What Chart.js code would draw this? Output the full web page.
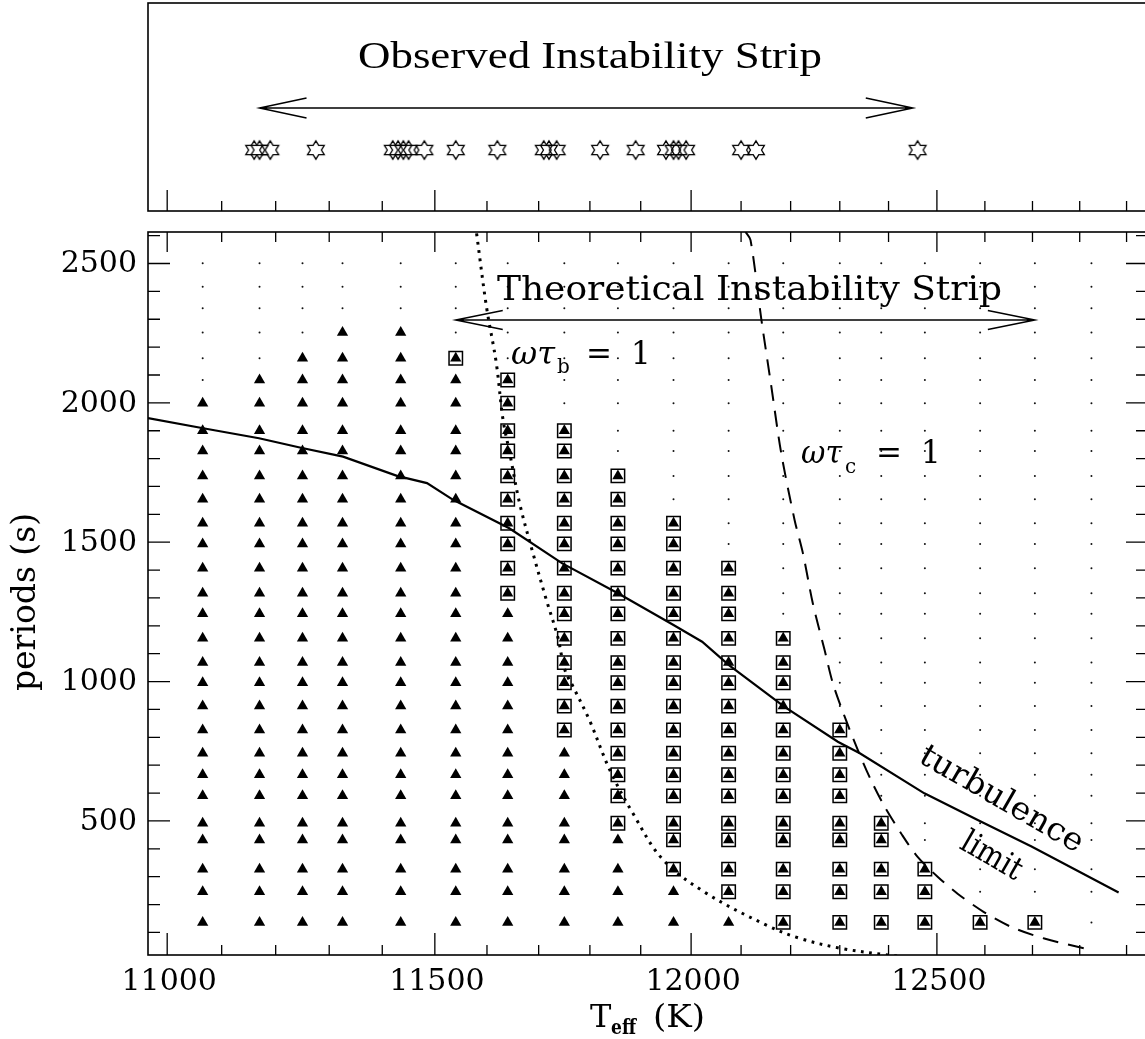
<!DOCTYPE html>
<html>
<head>
<meta charset="utf-8">
<title>Instability strip</title>
<script src="https://cdn.jsdelivr.net/npm/chart.js@4.4.1/dist/chart.umd.min.js"></script>
<style>
  html, body { margin: 0; padding: 0; background: #fff; overflow: hidden; }
  #wrap { position: relative; width: 1145px; height: 1039px; overflow: hidden; background: #fff; }
  canvas { position: absolute; left: 0; }
  #top { top: 0; }
  #main { top: 220px; }
</style>
</head>
<body>
<div id="wrap">
  <canvas id="top" width="1150" height="220"></canvas>
  <canvas id="main" width="1150" height="819"></canvas>
</div>
<script>
// ---- data ----
// model sequence: effective temperatures (K) and the periods (s) checked in each model
var modelTeff = [11065, 11170, 11250, 11325, 11435, 11540, 11640, 11750, 11855, 11965, 12075, 12185, 12300, 12385, 12475, 12590, 12705, 12825];
var modelPeriods = [136, 246, 327, 432, 492, 590, 666, 743, 826, 912, 996, 1068, 1155, 1243, 1317, 1407, 1494, 1568, 1654, 1738, 1827, 1900, 1999, 2082, 2160, 2252, 2339, 2417, 2501];
// unstable modes per model, counted from the shortest period (filled triangles)
var unstableCount = [23, 24, 25, 26, 26, 25, 24, 22, 20, 18, 16, 13, 9, 5, 3, 1, 1, 0];
// boxed modes per model: first and last period index (-1 = none)
var boxedFrom = [-1, -1, -1, -1, -1, 24, 14, 8, 4, 2, 1, 0, 0, 0, 0, 0, 0, -1];
var boxedTo   = [-1, -1, -1, -1, -1, 24, 23, 21, 19, 17, 15, 12, 8, 4, 2, 0, 0, -1];

// turbulence limit (solid)
var turbTeff = [10965, 11066, 11169, 11247, 11326, 11428, 11485, 11535, 11643, 11746, 11855, 11965, 12022, 12075, 12187, 12296, 12341, 12474, 12585, 12698, 12883];
var turbPeriod = [1945, 1909, 1873, 1839, 1807, 1738, 1712, 1652, 1550, 1424, 1317, 1203, 1143, 1060, 910, 784, 743, 599, 503, 408, 243];
// omega tau_b = 1 (dotted)
var tauBTeff = [11580, 11599, 11618, 11631, 11644, 11663, 11689, 11715, 11737, 11751, 11767, 11799, 11839, 11884, 11944, 12030, 12150, 12218, 12302, 12398, 12440];
var tauBPeriod = [2608, 2345, 2142, 1939, 1819, 1640, 1460, 1293, 1161, 1042, 982, 862, 683, 529, 361, 241, 127, 79, 43, 19, 12];
// omega tau_c = 1 (dashed)
var tauCTeff = [12109, 12119, 12141, 12161, 12181, 12208, 12225, 12245, 12269, 12286, 12310, 12337, 12364, 12392, 12426, 12460, 12502, 12543, 12598, 12655, 12725, 12824];
var tauCPeriod = [2613, 2584, 2297, 2058, 1819, 1580, 1460, 1281, 1113, 993, 874, 754, 646, 551, 455, 371, 299, 239, 173, 120, 78, 37];

// observed pulsators (top panel)
var observedTeff = [11160, 11170, 11190, 11275, 11420, 11430, 11440, 11450, 11480, 11540, 11620, 11710, 11720, 11735, 11820, 11890, 11950, 11965, 11975, 11990, 12100, 12130, 12460];
var observedStrip = [11170, 12450];
var theoryStrip = [11540, 12705];

var xTickLabels = [11000, 11500, 12000, 12500];
var yTickLabels = [500, 1000, 1500, 2000, 2500];

// ---- axes ----
var T_MIN = 10965, T_MAX = 12946;
var P_MIN = 19, P_MAX = 2613;
var SERIF = '"DejaVu Serif", serif';

var xMinor = [];
for (var t = 11000; t <= 12900; t += 100) xMinor.push(t);
var yMinor = [];
for (var p = 100; p <= 2600; p += 100) yMinor.push(p);

function pairs(xs, ys) {
	return xs.map(function (x, i) { return { x: x, y: ys[i] }; });
}

function txt(ctx, s, x, y, font, o) {
	o = o || {};
	ctx.save();
	ctx.font = font;
	ctx.fillStyle = '#000';
	ctx.textAlign = o.align || 'left';
	ctx.textBaseline = o.baseline || 'alphabetic';
	ctx.translate(x, y);
	if (o.rot) ctx.rotate(o.rot * Math.PI / 180);
	if (o.width) ctx.scale(o.width / ctx.measureText(s).width, 1);
	ctx.fillText(s, 0, 0);
	ctx.restore();
}

function arrow(ctx, x1, x2, y, head, spread) {
	ctx.beginPath();
	ctx.moveTo(x1, y); ctx.lineTo(x2, y);
	ctx.moveTo(x1 + head, y - spread); ctx.lineTo(x1, y); ctx.lineTo(x1 + head, y + spread);
	ctx.moveTo(x2 - head, y - spread); ctx.lineTo(x2, y); ctx.lineTo(x2 - head, y + spread);
	ctx.stroke();
}

// inward tick marks; len = [major, minor] or null
function ticks(chart, sides) {
	var ctx = chart.ctx, a = chart.chartArea, xs = chart.scales.x, ys = chart.scales.y;
	ctx.save();
	ctx.strokeStyle = '#000';
	ctx.lineWidth = 1.3;
	ctx.beginPath();
	xMinor.forEach(function (v) {
		var x = xs.getPixelForValue(v), major = xTickLabels.indexOf(v) >= 0;
		if (sides.bottom) { ctx.moveTo(x, a.bottom); ctx.lineTo(x, a.bottom - sides.bottom[major ? 0 : 1]); }
		if (sides.top) { ctx.moveTo(x, a.top); ctx.lineTo(x, a.top + sides.top[major ? 0 : 1]); }
	});
	if (sides.left || sides.right) {
		yMinor.forEach(function (v) {
			var y = ys.getPixelForValue(v), major = yTickLabels.indexOf(v) >= 0;
			if (sides.left) { ctx.moveTo(a.left, y); ctx.lineTo(a.left + sides.left[major ? 0 : 1], y); }
			if (sides.right) { ctx.moveTo(a.right, y); ctx.lineTo(a.right - sides.right[major ? 0 : 1], y); }
		});
	}
	ctx.stroke();
	ctx.lineWidth = 1.6;
	ctx.strokeRect(a.left, a.top, a.right - a.left, a.bottom - a.top);
	ctx.restore();
}

function starImage() {
	var c = document.createElement('canvas');
	c.width = 24; c.height = 24;
	var g = c.getContext('2d');
	g.strokeStyle = '#000';
	g.lineWidth = 1.3;
	g.beginPath();
	for (var i = 0; i < 12; i++) {
		var ang = -Math.PI / 2 + i * Math.PI / 6;
		var r = (i % 2) ? 5.3 : 9.2;
		var px = 12 + Math.cos(ang) * r * 1.05, py = 12 + Math.sin(ang) * r;
		if (i) g.lineTo(px, py); else g.moveTo(px, py);
	}
	g.closePath();
	g.stroke();
	return c;
}

var baseOptions = function (pad, ymin, ymax) {
	return {
		responsive: false,
		animation: false,
		devicePixelRatio: 1,
		events: [],
		layout: { padding: pad, autoPadding: false },
		scales: {
			x: { type: 'logarithmic', min: T_MIN, max: T_MAX, display: false, bounds: 'data' },
			y: { type: 'linear', min: ymin, max: ymax, display: false }
		},
		plugins: { legend: { display: false }, tooltip: { enabled: false } }
	};
};

// ---- top panel: observed stars ----
var STAR_ROW = 0.293, OBS_ARROW = 0.495;

var topDecor = {
	id: 'topDecor',
	afterDraw: function (chart) {
		var ctx = chart.ctx, xs = chart.scales.x, ys = chart.scales.y;
		ticks(chart, { bottom: [21, 10] });
		ctx.save();
		ctx.strokeStyle = '#000';
		ctx.lineWidth = 1.5;
		arrow(ctx, xs.getPixelForValue(observedStrip[0]), xs.getPixelForValue(observedStrip[1]), ys.getPixelForValue(OBS_ARROW), 47, 10);
		ctx.restore();
		txt(ctx, 'Observed Instability Strip', 358, 68, '37px "Liberation Serif", serif', { width: 464 });
	}
};

new Chart(document.getElementById('top'), {
	type: 'scatter',
	data: {
		datasets: [{
			data: observedTeff.map(function (t) { return { x: t, y: STAR_ROW }; }),
			pointStyle: starImage(),
			pointRadius: 9
		}]
	},
	options: baseOptions({ left: 148, right: 2, top: 3, bottom: 9 }, 0, 1),
	plugins: [topDecor]
});

// ---- main panel ----
var gridPts = [], triPts = [], boxPts = [];
modelTeff.forEach(function (t, i) {
	modelPeriods.forEach(function (p, j) {
		gridPts.push({ x: t, y: p });
		if (j < unstableCount[i]) triPts.push({ x: t, y: p });
		if (boxedFrom[i] >= 0 && j >= boxedFrom[i] && j <= boxedTo[i]) boxPts.push({ x: t, y: p });
	});
});

var THEORY_ARROW = 2297;

var mainDecor = {
	id: 'mainDecor',
	afterDraw: function (chart) {
		var ctx = chart.ctx, a = chart.chartArea, xs = chart.scales.x, ys = chart.scales.y;
		ticks(chart, { bottom: [22, 10], top: [20, 10], left: [22, 12], right: [22, 12] });

		// tick labels
		var tickFont = '30px ' + SERIF;
		xTickLabels.forEach(function (v) {
			txt(ctx, String(v), xs.getPixelForValue(v) + 2, a.bottom + 35, tickFont, { align: 'center' });
		});
		yTickLabels.forEach(function (v) {
			txt(ctx, String(v), a.left - 11, ys.getPixelForValue(v) + 1, tickFont, { align: 'right', baseline: 'middle' });
		});

		// axis titles
		txt(ctx, 'periods (s)', 35, 382, '33px ' + SERIF, { align: 'center', rot: -90 });
		txt(ctx, 'T', 590, 807, '32px ' + SERIF);
		txt(ctx, 'eff', 611, 814, 'bold 20px ' + SERIF, { width: 25 });
		txt(ctx, '(K)', 653, 807, '32px ' + SERIF, { width: 52 });

		// theoretical strip
		ctx.save();
		ctx.strokeStyle = '#000';
		ctx.lineWidth = 1.5;
		arrow(ctx, xs.getPixelForValue(theoryStrip[0]), xs.getPixelForValue(theoryStrip[1]), ys.getPixelForValue(THEORY_ARROW), 47, 9.5);
		ctx.restore();
		txt(ctx, 'Theoretical Instability Strip', 497, 80, '34px ' + SERIF, { width: 505 });

		// curve labels
		txt(ctx, 'ωτ', 511, 144, 'italic 31px ' + SERIF, { width: 44 });
		txt(ctx, 'b', 557, 153, '20px ' + SERIF);
		txt(ctx, '=', 586, 144, '31px ' + SERIF);
		txt(ctx, '1', 631, 144, '31px ' + SERIF);

		txt(ctx, 'ωτ', 801, 243, 'italic 31px ' + SERIF, { width: 41 });
		txt(ctx, 'c', 845, 253, '20px ' + SERIF);
		txt(ctx, '=', 876, 243, '31px ' + SERIF);
		txt(ctx, '1', 921, 243, '31px ' + SERIF);

		txt(ctx, 'turbulence', 1001, 580, '32px ' + SERIF, { align: 'center', baseline: 'middle', rot: 30, width: 184 });
		txt(ctx, 'limit', 991, 637, '32px ' + SERIF, { align: 'center', baseline: 'middle', rot: 30, width: 66 });
	}
};

new Chart(document.getElementById('main'), {
	type: 'scatter',
	data: {
		datasets: [
			{
				label: 'turbulence limit',
				data: pairs(turbTeff, turbPeriod),
				showLine: true, borderColor: '#000', borderWidth: 2.2, pointRadius: 0, tension: 0
			},
			{
				label: 'omega tau_b = 1',
				data: pairs(tauBTeff, tauBPeriod),
				showLine: true, borderColor: '#000', borderWidth: 3, borderDash: [2.8, 5.6], pointRadius: 0, tension: 0.35
			},
			{
				label: 'omega tau_c = 1',
				data: pairs(tauCTeff, tauCPeriod),
				showLine: true, borderColor: '#000', borderWidth: 2, borderDash: [16, 10], pointRadius: 0, tension: 0.3
			},
			{
				label: 'boxed',
				data: boxPts,
				pointStyle: 'rect', pointRadius: 9.5, borderWidth: 1.5, borderColor: '#000', backgroundColor: 'rgba(0,0,0,0)'
			},
			{
				label: 'unstable',
				data: triPts,
				pointStyle: 'triangle', pointRadius: 6.5, borderWidth: 0, backgroundColor: '#000'
			},
			{
				label: 'grid',
				data: gridPts,
				pointStyle: 'circle', pointRadius: 1, borderWidth: 0, backgroundColor: '#111'
			}
		]
	},
	options: baseOptions({ left: 148, right: 2, top: 12, bottom: 84 }, P_MIN, P_MAX),
	plugins: [mainDecor]
});
</script>
</body>
</html>
